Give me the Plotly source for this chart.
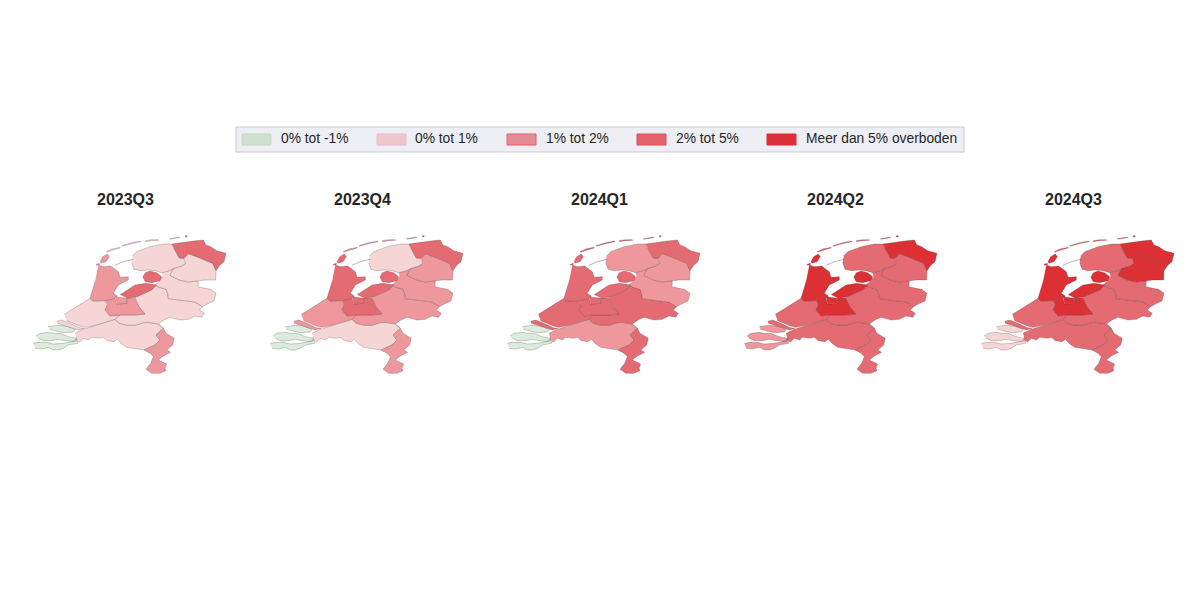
import plotly.graph_objects as go
from plotly.subplots import make_subplots

quarters = ["2023Q3", "2023Q4", "2024Q1", "2024Q2", "2024Q3"]
klassen = ["0% tot -1%", "0% tot 1%", "1% tot 2%", "2% tot 5%", "Meer dan 5% overboden"]

# klasse per provincie per kwartaal (index in klassen)
groningen = [3, 3, 3, 4, 4]
friesland = [1, 1, 2, 3, 3]
wadden = [1, 2, 3, 3, 3]
drenthe = [1, 2, 2, 3, 4]
overijssel = [1, 2, 2, 3, 3]
flevoland = [3, 3, 3, 4, 4]
gelderland = [1, 2, 3, 3, 3]
utrecht = [2, 3, 3, 4, 4]
noord_holland = [2, 3, 3, 4, 4]
zuid_holland = [1, 2, 3, 3, 3]
zeeland = [0, 0, 0, 2, 1]
noord_brabant = [1, 1, 2, 3, 3]
limburg = [2, 2, 3, 3, 3]

# provinciegrenzen in kaarteenheden, None scheidt losse delen
groningen_xy = [(455, 42), (478, 38), (520, 33), (550, 30), (558, 45), (572, 50), (590, 62), (618, 70), (612, 95), (600, 105), (588, 122), (578, 100), (560, 92), (530, 80), (505, 71), (492, 85), (478, 84), (470, 70), (462, 55), None,
                (495, 17), (502, 17), (501, 21), (496, 21)]
friesland_xy = [(338, 78), (350, 65), (390, 50), (430, 42), (455, 42), (462, 55), (470, 70), (478, 84), (492, 85), (497, 100), (485, 108), (462, 115), (448, 122), (425, 128), (405, 122), (385, 120), (360, 122), (342, 118), (335, 98)]
wadden_xy = [(258, 65), (275, 57), (300, 52), (301, 54), (280, 60), (260, 67), None,
             (305, 47), (335, 38), (362, 33), (363, 35), (335, 41), (307, 49), None,
             (375, 32), (395, 29), (415, 29), (416, 31), (395, 32), (376, 35), None,
             (448, 26), (462, 23), (478, 21), (479, 23), (462, 25), (449, 28)]
afsluitdijk_x = [285, 310, 340]
afsluitdijk_y = [106, 95, 88]
drenthe_xy = [(492, 85), (505, 71), (530, 80), (560, 92), (578, 100), (588, 122), (587, 150), (555, 150), (535, 152), (505, 156), (478, 150), (450, 136), (455, 125), (462, 115), (485, 108), (497, 100)]
overijssel_xy = [(425, 128), (448, 122), (462, 115), (455, 125), (450, 136), (478, 150), (505, 156), (535, 152), (534, 170), (555, 175), (572, 178), (588, 190), (582, 213), (562, 222), (548, 230), (525, 216), (495, 212), (470, 210), (445, 206), (443, 190), (438, 178), (418, 172), (405, 165), (420, 152), (428, 140)]
flevoland_xy = [(368, 142), (376, 128), (390, 123), (410, 128), (425, 140), (420, 152), (395, 158), (375, 155), None,
                (300, 194), (345, 165), (378, 160), (410, 165), (395, 180), (350, 200), (322, 205)]
gelderland_xy = [(345, 203), (395, 180), (405, 165), (418, 172), (438, 178), (443, 190), (445, 206), (470, 210), (495, 212), (525, 216), (548, 230), (538, 240), (553, 250), (545, 262), (525, 258), (505, 268), (480, 270), (450, 262), (432, 270), (415, 282), (385, 277), (370, 278), (345, 286), (318, 285), (298, 280), (285, 268), (300, 255), (345, 255), (375, 252), (358, 232)]
utrecht_xy = [(255, 212), (285, 205), (290, 222), (320, 220), (320, 205), (345, 203), (358, 232), (375, 252), (345, 255), (300, 255), (270, 258), (255, 240), (262, 225)]
gooi_xy = [(285, 200), (320, 205), (320, 220), (290, 222)]
noord_holland_xy = [(235, 105), (250, 110), (272, 108), (295, 125), (300, 142), (325, 140), (325, 150), (295, 165), (280, 190), (292, 198), (285, 205), (255, 212), (218, 213), (210, 205), (225, 155), None,
                    (240, 95), (248, 80), (262, 72), (268, 80), (258, 95), (242, 100), None,
                    (228, 103), (238, 100), (238, 104), (229, 106)]
zuid_holland_xy = [(133, 253), (170, 230), (210, 205), (218, 213), (255, 212), (262, 225), (255, 240), (270, 258), (300, 255), (285, 268), (255, 278), (225, 286), (195, 292), (178, 288), (155, 278), (140, 272), None,
                   (110, 274), (125, 270), (150, 280), (178, 293), (192, 295), (175, 300), (150, 292), (125, 283), (112, 280)]
zeeland_xy = [(85, 290), (112, 286), (140, 288), (165, 298), (160, 306), (130, 308), (105, 302), (88, 298), None,
              (48, 318), (60, 310), (85, 307), (100, 310), (120, 310), (145, 320), (170, 325), (165, 335), (135, 332), (115, 328), (95, 332), (70, 332), (55, 325), None,
              (40, 340), (55, 337), (80, 337), (100, 342), (130, 340), (155, 335), (170, 328), (173, 340), (145, 345), (130, 355), (115, 360), (100, 360), (85, 352), (65, 357), (45, 355)]
noord_brabant_xy = [(165, 310), (190, 298), (225, 287), (255, 278), (285, 268), (298, 280), (318, 285), (345, 286), (370, 278), (385, 277), (415, 282), (430, 295), (408, 315), (420, 330), (405, 345), (372, 360), (345, 355), (320, 352), (305, 342), (292, 328), (282, 335), (262, 332), (250, 322), (238, 325), (215, 322), (205, 330), (190, 325), (178, 337), (170, 330), (168, 320)]
limburg_xy = [(415, 282), (430, 295), (438, 310), (463, 325), (458, 345), (440, 360), (452, 367), (430, 378), (415, 390), (425, 395), (440, 402), (435, 415), (438, 422), (420, 430), (395, 430), (378, 418), (392, 400), (400, 380), (390, 370), (372, 360), (405, 345), (420, 330), (408, 315), (430, 295)]

provincies = [
    ("Zeeland", zeeland_xy, zeeland),
    ("Noord-Brabant", noord_brabant_xy, noord_brabant),
    ("Limburg", limburg_xy, limburg),
    ("Zuid-Holland", zuid_holland_xy, zuid_holland),
    ("Gelderland", gelderland_xy, gelderland),
    ("Utrecht", utrecht_xy, utrecht),
    ("Noord-Holland", noord_holland_xy, noord_holland),
    ("Gooi", gooi_xy, noord_holland),
    ("Overijssel", overijssel_xy, overijssel),
    ("Drenthe", drenthe_xy, drenthe),
    ("Friesland", friesland_xy, friesland),
    ("Groningen", groningen_xy, groningen),
    ("Wadden", wadden_xy, wadden),
    ("Flevoland", flevoland_xy, flevoland),
]

kaart_kleuren = ["#dcebdc", "#f6d5d5", "#ee989d", "#e56b72", "#dc3035"]
legenda_kleuren = ["#cfe0d1", "#eec6cd", "#e48c94", "#e2626c", "#dc2f37"]
legenda_randen = ["#c3d9c6", "#e9bcc5", "#e0616b", "#e04f5a", "#dc2f37"]

fig = make_subplots(rows=1, cols=5)


# de pagina heeft 8 px marge rond de figuur
def px(x):
    return (x - 8) / 1200


def py(y):
    return 1 - (y - 8) / 600


for i, quarter in enumerate(quarters):
    col = i + 1
    links = 20 + 237 * i
    for naam, punten, klasse in provincies:
        xs = [p[0] if p else None for p in punten]
        ys = [p[1] if p else None for p in punten]
        fig.add_trace(
            go.Scatter(x=xs, y=ys, mode="lines", fill="toself", name=naam,
                       fillcolor=kaart_kleuren[klasse[i]],
                       line=dict(color="rgba(50,50,50,0.6)", width=0.4),
                       hoverinfo="name", showlegend=False),
            row=1, col=col,
        )
    fig.add_trace(
        go.Scatter(x=afsluitdijk_x, y=afsluitdijk_y, mode="lines",
                   line=dict(color="rgba(50,50,50,0.6)", width=0.6),
                   hoverinfo="skip", showlegend=False),
        row=1, col=col,
    )
    fig.update_xaxes(domain=[px(links), px(links + 220)], range=[0, 660], visible=False, row=1, col=col)
    fig.update_yaxes(domain=[py(380), py(230)], range=[450, 0], visible=False, row=1, col=col)
    fig.add_annotation(text=f"<b>{quarter}</b>", xref="paper", yref="paper",
                       x=px(125 + 237 * i), y=py(199), xanchor="center", yanchor="middle",
                       showarrow=False, font=dict(size=16, color="#262626"))

# legenda
fig.add_shape(type="rect", xref="paper", yref="paper", x0=px(236), x1=px(964), y0=py(152), y1=py(127),
              fillcolor="#eeeef5", line=dict(color="#cccccc", width=1), layer="below")
swatch_x = [242, 377, 507, 637, 767]
tekst_x = [281, 415, 546, 676, 806]
for i, klasse in enumerate(klassen):
    fig.add_shape(type="rect", xref="paper", yref="paper",
                  x0=px(swatch_x[i]), x1=px(swatch_x[i] + 29), y0=py(145), y1=py(134),
                  fillcolor=legenda_kleuren[i], line=dict(color=legenda_randen[i], width=1))
    fig.add_annotation(text=klasse, xref="paper", yref="paper", x=px(tekst_x[i]), y=py(139),
                       xanchor="left", yanchor="middle", xshift=-2, showarrow=False,
                       font=dict(size=13.8, color="#262626"))

fig.update_layout(width=1200, height=600, margin=dict(l=0, r=0, t=0, b=0),
                  paper_bgcolor="white", plot_bgcolor="white",
                  font=dict(family="Liberation Sans"))

fig.write_html("out.html")
